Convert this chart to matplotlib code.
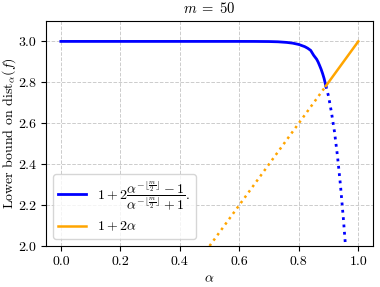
import matplotlib
matplotlib.use("Agg")
import matplotlib.pyplot as plt

plt.rcParams['font.family'] = 'serif'
plt.rcParams['font.serif'] = ['cmr10']
plt.rcParams['mathtext.fontset'] = 'cm'
plt.rcParams['axes.unicode_minus'] = False
plt.rcParams['axes.formatter.use_mathtext'] = True

# Values
blue_solid_x = [0.0, 0.1, 0.2, 0.3, 0.4, 0.5, 0.6, 0.65, 0.7, 0.73, 0.76, 0.78, 0.80, 0.82,
                0.83, 0.84, 0.85, 0.86, 0.865, 0.87, 0.875, 0.88, 0.885, 0.891]
blue_solid_y = [3.0, 3.0, 3.0, 3.0, 3.0, 3.0, 3.0, 2.9999, 2.9993, 2.9981, 2.9950, 2.9913, 2.9850, 2.9744,
                2.9665, 2.9560, 2.9320, 2.913, 2.899, 2.882, 2.864, 2.843, 2.819, 2.782]
blue_dot_x = [0.891, 0.90, 0.91, 0.92, 0.93, 0.94, 0.95, 0.957]
blue_dot_y = [2.782, 2.732, 2.651, 2.558, 2.440, 2.298, 2.131, 2.0]
orange_dot_x = [0.5, 0.891]
orange_dot_y = [2.0, 2.782]
orange_solid_x = [0.891, 1.0]
orange_solid_y = [2.782, 3.0]

xticks = [0.0, 0.2, 0.4, 0.6, 0.8, 1.0]
yticks = [2.0, 2.2, 2.4, 2.6, 2.8, 3.0]

fig = plt.figure(figsize=(3.8, 2.87), dpi=100)
ax = fig.add_axes([0.121, 0.143, 0.861, 0.784])

ax.plot(blue_solid_x, blue_solid_y, color='blue', lw=2,
        label=r'$1+2\dfrac{\alpha^{-\lfloor\frac{m}{2}\rfloor}-1}{\alpha^{-\lfloor\frac{m}{2}\rfloor}+1}.$')
ax.plot(blue_dot_x, blue_dot_y, color='blue', lw=2, ls=':')
ax.plot(orange_solid_x, orange_solid_y, color='orange', lw=1.8, label=r'$1+2\alpha$')
ax.plot(orange_dot_x, orange_dot_y, color='orange', lw=1.8, ls=':')

ax.set_xlim(-0.05, 1.05)
ax.set_ylim(2.0, 3.1)
ax.set_xticks(xticks)
ax.set_yticks(yticks)
ax.set_xticklabels([f'{t:.1f}' for t in xticks])
ax.set_yticklabels([f'{t:.1f}' for t in yticks])
ax.tick_params(labelsize=10)
ax.grid(True, ls='--', color='#cccccc', lw=0.7)
ax.set_title(r'$m\;=\;50$', fontsize=10.5)
ax.set_xlabel(r'$\alpha$', fontsize=10)
ax.set_ylabel(r'Lower bound on dist$_\alpha(f)$', fontsize=10)
ax.yaxis.set_label_coords(-0.087, 0.5)
ax.legend(loc='lower left', fontsize=10)

fig.savefig('out.png', dpi=100)
